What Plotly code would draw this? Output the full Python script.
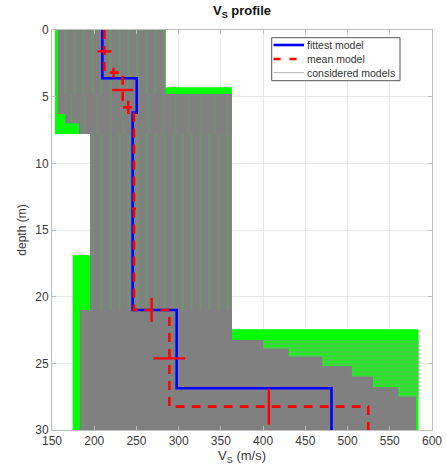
import plotly.graph_objects as go

# ---------------- data ----------------
# envelope of all tested models (bright green), step profile per depth segment
ALL_TOP = [0.0, 4.3, 7.8, 16.9, 22.45]
ALL_BOT = [4.3, 7.8, 16.9, 22.45, 30.0]
ALL_MIN = [153.5, 153.5, 195.0, 174.5, 174.5]
ALL_MAX = [284.6, 363.0, 363.0, 363.0, 584.0]

# band where green and gray models interleave (right side, below 22.45 m)
MIX_TOP = [23.25]
MIX_BOT = [27.6]
MIX_MIN = [363.0]
MIX_MAX = [584.0]

# envelope of considered models (gray)
CON_TOP = [0.0, 4.8, 6.3, 7.0, 7.8, 21.0, 22.45, 23.25, 23.9, 24.5, 25.2, 26.0, 26.8, 27.5]
CON_BOT = [4.8, 6.3, 7.0, 7.8, 21.0, 22.45, 23.25, 23.9, 24.5, 25.2, 26.0, 26.8, 27.5, 30.0]
CON_MIN = [157, 157, 166, 182, 195, 183, 183, 183, 183, 183, 183, 183, 183, 183]
CON_MAX = [284.6, 363, 363, 363, 363, 363, 363, 400, 430, 470, 505, 530, 560, 581]

# fittest model
FIT_VS = [209.6, 250.3, 245.5, 297.6, 481.0]
FIT_INTERFACES = [3.62, 6.2, 21.0, 26.87]

# mean model
MEAN_VS = [212.0, 233.7, 247.0, 289.0, 524.6]
MEAN_INTERFACES = [3.2, 5.8, 21.0, 28.25]
MEAN_VS_STD = [8.3, 12.4, 2.5, 18.7]
MEAN_DEPTH_STD = [0.37, 0.5, 0.9, 1.35]

DEPTH_MAX = 30.0
X_TICKS = [150, 200, 250, 300, 350, 400, 450, 500, 550, 600]
Y_TICKS = [0, 5, 10, 15, 20, 25, 30]
LEGEND_NAMES = ["fittest model", "mean model", "considered models"]


def step_polygon(tops, bots, mins, maxs, idx):
    xs, ys = [], []
    for i in idx:
        xs += [maxs[i], maxs[i]]
        ys += [tops[i], bots[i]]
    for i in reversed(idx):
        xs += [mins[i], mins[i]]
        ys += [bots[i], tops[i]]
    xs.append(xs[0]); ys.append(ys[0])
    return xs, ys


fig = go.Figure()

GREEN = "#00ff00"
GRAY = "#808080"
STREAK = "#5aaa5a"
BLUE = "#0000ff"
RED = "#ff0000"
FONT = "Liberation Sans, Arial, sans-serif"

# all models envelope
ax, ay = step_polygon(ALL_TOP, ALL_BOT, ALL_MIN, ALL_MAX, list(range(len(ALL_TOP))))
fig.add_trace(go.Scatter(x=ax, y=ay, fill="toself", fillcolor=GREEN, mode="none",
                         hoverinfo="skip", showlegend=False))

# interleaved band (horizontal gray lines over green)
mx, my = step_polygon(MIX_TOP, MIX_BOT, MIX_MIN, MIX_MAX, [0])
fig.add_trace(go.Scatter(x=mx, y=my, fill="toself", fillcolor=GREEN, mode="none",
                         fillpattern=dict(shape="-", bgcolor="#1ef01e", fgcolor="#7fa07f",
                                          size=4, solidity=0.5),
                         hoverinfo="skip", showlegend=False))

# considered models with green streaks
n = len(CON_TOP)
cx, cy = step_polygon(CON_TOP, CON_BOT, CON_MIN, CON_MAX, list(range(n)))
fig.add_trace(go.Scatter(x=cx, y=cy, fill="toself", fillcolor=GRAY, mode="none",
                         fillpattern=dict(shape="|", bgcolor=GRAY, fgcolor=STREAK,
                                          size=9, solidity=0.22),
                         hoverinfo="skip", showlegend=False))
# zones with fewer streaks
px, py = step_polygon(CON_TOP, CON_BOT, CON_MIN, CON_MAX, [1, 2, 3])
fig.add_trace(go.Scatter(x=px, y=py, fill="toself", fillcolor=GRAY, mode="none",
                         fillpattern=dict(shape="|", bgcolor=GRAY, fgcolor="#6a9a6a",
                                          size=13, solidity=0.12),
                         hoverinfo="skip", showlegend=False))
px, py = step_polygon(CON_TOP, CON_BOT, [v + 8 for v in CON_MIN], CON_MAX, list(range(5, n)))
fig.add_trace(go.Scatter(x=px, y=py, fill="toself", fillcolor=GRAY, mode="none",
                         hoverinfo="skip", showlegend=False))

# fittest model
fit_y = [0.0] + FIT_INTERFACES + [DEPTH_MAX]
fit_x = FIT_VS + [FIT_VS[-1]]
fig.add_trace(go.Scatter(x=fit_x, y=fit_y, mode="lines", line_shape="vh",
                         line=dict(color=BLUE, width=2.6), name=LEGEND_NAMES[0],
                         showlegend=False))

# mean model
mean_y = [0.0] + MEAN_INTERFACES + [DEPTH_MAX]
mean_x = MEAN_VS + [MEAN_VS[-1]]
fig.add_trace(go.Scatter(x=mean_x, y=mean_y, mode="lines", line_shape="vh",
                         line=dict(color=RED, width=2.6, dash="9px,7px"),
                         name=LEGEND_NAMES[1], showlegend=False))

# mean model error bars: vs std at layer mid-depth, depth std at interface mid-velocity
tops = [0.0] + MEAN_INTERFACES[:-1]
lay_y = [(t + b) / 2 for t, b in zip(tops, MEAN_INTERFACES)]
fig.add_trace(go.Scatter(x=MEAN_VS[:4], y=lay_y, mode="markers", marker=dict(size=0.1, color=RED),
                         error_x=dict(type="data", array=MEAN_VS_STD, color=RED,
                                      thickness=2.4, width=0),
                         hoverinfo="skip", showlegend=False))
int_x = [(MEAN_VS[i] + MEAN_VS[i + 1]) / 2 for i in range(4)]
fig.add_trace(go.Scatter(x=int_x, y=MEAN_INTERFACES, mode="markers", marker=dict(size=0.1, color=RED),
                         error_y=dict(type="data", array=MEAN_DEPTH_STD, color=RED,
                                      thickness=2.4, width=0),
                         hoverinfo="skip", showlegend=False))

# ---------- legend box drawn in paper coordinates (MATLAB style, compact) ----------
L, T = 52, 30          # plot area origin in px
W, H = 380, 400        # plot area size in px
def pxx(v): return (v - L) / W
def pxy(v): return 1 - (v - T) / H

shapes = [dict(type="rect", xref="paper", yref="paper",
               x0=pxx(271.7), x1=pxx(400), y0=pxy(37.7), y1=pxy(80.7),
               line=dict(color="#555", width=1), fillcolor="white", layer="above")]
row_y = [45.0, 59.0, 72.7]
styles = [dict(color=BLUE, width=2.6), dict(color=RED, width=2.6, dash="7px,9px"),
          dict(color="#b0b0b0", width=1)]
annotations = []
for name, yy, st in zip(LEGEND_NAMES, row_y, styles):
    shapes.append(dict(type="line", xref="paper", yref="paper",
                       x0=pxx(273.5), x1=pxx(304), y0=pxy(yy), y1=pxy(yy),
                       line=st, layer="above"))
    annotations.append(dict(text=name, xref="paper", yref="paper", x=pxx(304.5), y=pxy(yy),
                            xanchor="left", yanchor="middle", showarrow=False,
                            font=dict(family=FONT, size=10.5, color="#333")))

axis_common = dict(showgrid=True, gridcolor="#e8e8e8", gridwidth=1, zeroline=False,
                   showline=True, linecolor="#bdbdbd", linewidth=1, mirror="ticks",
                   ticks="inside", ticklen=4, tickcolor="#bdbdbd",
                   tickfont=dict(family=FONT, size=12, color="#3a3a3a"))

fig.update_layout(
    width=446, height=472,
    margin=dict(l=52, r=14, t=30, b=42, autoexpand=False),
    paper_bgcolor="white", plot_bgcolor="white",
    title=dict(text="<b>V<sub>S</sub> profile</b>", x=(52 + 190) / 446, xanchor="center",
               y=1 - 6 / 472, yanchor="top", yref="container",
               font=dict(family=FONT, size=13, color="#111")),
    xaxis=dict(range=[150, 600], tickvals=X_TICKS, **axis_common,
               title=dict(text="V<sub>S</sub> (m/s)", standoff=3,
                          font=dict(family=FONT, size=13, color="#3a3a3a"))),
    yaxis=dict(range=[DEPTH_MAX, 0], tickvals=Y_TICKS, **axis_common,
               title=dict(text="depth (m)", standoff=6,
                          font=dict(family=FONT, size=12, color="#3a3a3a"))),
    shapes=shapes,
    annotations=annotations,
    showlegend=False,
)

fig.write_html("out.html")
